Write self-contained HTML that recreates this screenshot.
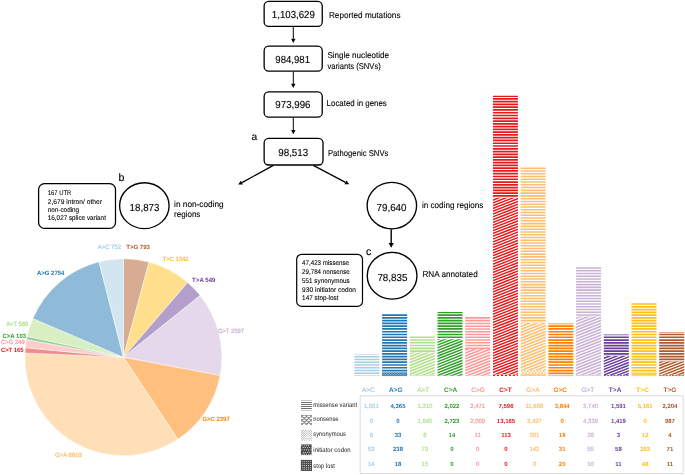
<!DOCTYPE html>
<html lang="en"><head><meta charset="utf-8"><title>Figure</title>
<style>html,body{margin:0;padding:0;background:#fff}svg{display:block}text{font-family:"Liberation Sans",sans-serif}text.g{text-rendering:geometricPrecision}</style></head><body>
<svg width="685" height="475" viewBox="0 0 685 475">
<rect width="685" height="475" fill="#fff"/>
<defs>
</defs>
<rect x="264.15" y="1.45" width="58.10" height="25.00" rx="4.5" ry="4.5" fill="#fff" stroke="#000" stroke-width="1.3"/>
<text x="271.8" y="17.7" class="g" font-size="10.2" text-anchor="start" fill="#000" textLength="43.1" lengthAdjust="spacingAndGlyphs" stroke="#000" stroke-width="0.12">1,103,629</text>
<rect x="264.15" y="46.15" width="58.10" height="25.00" rx="4.5" ry="4.5" fill="#fff" stroke="#000" stroke-width="1.3"/>
<text x="275.3" y="62.7" class="g" font-size="10.2" text-anchor="start" fill="#000" textLength="34.7" lengthAdjust="spacingAndGlyphs" stroke="#000" stroke-width="0.12">984,981</text>
<rect x="264.15" y="91.85" width="58.10" height="25.35" rx="4.5" ry="4.5" fill="#fff" stroke="#000" stroke-width="1.3"/>
<text x="275.3" y="107.6" class="g" font-size="10.2" text-anchor="start" fill="#000" textLength="35.2" lengthAdjust="spacingAndGlyphs" stroke="#000" stroke-width="0.12">973,996</text>
<rect x="264.15" y="138.4" width="58.85" height="26.60" rx="4.5" ry="4.5" fill="#fff" stroke="#000" stroke-width="1.3"/>
<text x="278.2" y="156.1" class="g" font-size="10.2" text-anchor="start" fill="#000" textLength="30.1" lengthAdjust="spacingAndGlyphs" stroke="#000" stroke-width="0.12">98,513</text>
<line x1="293.3" y1="27" x2="293.30" y2="38.80" stroke="#000" stroke-width="1.0"/>
<path d="M293.30,43.00L291.10,38.80L295.50,38.80z" fill="#000"/>
<line x1="293.3" y1="71.8" x2="293.30" y2="83.80" stroke="#000" stroke-width="1.0"/>
<path d="M293.30,88.00L291.10,83.80L295.50,83.80z" fill="#000"/>
<line x1="293.3" y1="117.8" x2="293.30" y2="130.00" stroke="#000" stroke-width="1.0"/>
<path d="M293.30,134.20L291.10,130.00L295.50,130.00z" fill="#000"/>
<line x1="273.4" y1="165.4" x2="241.89" y2="182.59" stroke="#000" stroke-width="1.25"/>
<path d="M238.20,184.60L240.83,180.66L242.94,184.52z" fill="#000"/>
<line x1="313.3" y1="165.4" x2="345.48" y2="182.34" stroke="#000" stroke-width="1.25"/>
<path d="M349.20,184.30L344.46,184.29L346.51,180.40z" fill="#000"/>
<text x="328.9" y="17.7" class="g" font-size="8.5" text-anchor="start" fill="#000" textLength="71.6" lengthAdjust="spacingAndGlyphs" stroke="#000" stroke-width="0.1">Reported mutations</text>
<text x="327.4" y="57.9" class="g" font-size="8.5" text-anchor="start" fill="#000" textLength="61.6" lengthAdjust="spacingAndGlyphs" stroke="#000" stroke-width="0.1">Single nucleotide</text>
<text x="327.4" y="68.5" class="g" font-size="8.5" text-anchor="start" fill="#000" textLength="53.4" lengthAdjust="spacingAndGlyphs" stroke="#000" stroke-width="0.1">variants (SNVs)</text>
<text x="326.6" y="106.4" class="g" font-size="8.5" text-anchor="start" fill="#000" textLength="60.2" lengthAdjust="spacingAndGlyphs" stroke="#000" stroke-width="0.1">Located in genes</text>
<text x="327.9" y="156.1" class="g" font-size="8.5" text-anchor="start" fill="#000" textLength="60.5" lengthAdjust="spacingAndGlyphs" stroke="#000" stroke-width="0.1">Pathogenic SNVs</text>
<text x="251.6" y="139.9" class="g" font-size="10.2" text-anchor="start" fill="#000" stroke="#000" stroke-width="0.15">a</text>
<text x="118.6" y="181.3" class="g" font-size="10.6" text-anchor="start" fill="#000" stroke="#000" stroke-width="0.15">b</text>
<text x="366.0" y="254.9" class="g" font-size="10.6" text-anchor="start" fill="#000" stroke="#000" stroke-width="0.15">c</text>
<ellipse cx="144.35" cy="205.65" rx="24.75" ry="22.95" fill="#fff" stroke="#000" stroke-width="1.35"/>
<text x="129.6" y="210.8" class="g" font-size="10.2" text-anchor="start" fill="#000" textLength="29.8" lengthAdjust="spacingAndGlyphs" stroke="#000" stroke-width="0.12">18,873</text>
<ellipse cx="391.85" cy="205.6" rx="24.75" ry="23.25" fill="#fff" stroke="#000" stroke-width="1.35"/>
<text x="376.5" y="211.1" class="g" font-size="10.2" text-anchor="start" fill="#000" textLength="30" lengthAdjust="spacingAndGlyphs" stroke="#000" stroke-width="0.12">79,640</text>
<ellipse cx="392.1" cy="275.8" rx="24.85" ry="23.35" fill="#fff" stroke="#000" stroke-width="1.35"/>
<text x="377.4" y="281.3" class="g" font-size="10.2" text-anchor="start" fill="#000" textLength="30" lengthAdjust="spacingAndGlyphs" stroke="#000" stroke-width="0.12">78,835</text>
<line x1="391.2" y1="229.3" x2="391.20" y2="242.90" stroke="#000" stroke-width="1.4"/>
<path d="M391.20,247.70L388.60,242.90L393.80,242.90z" fill="#000"/>
<text x="174.1" y="206.7" class="g" font-size="8.5" text-anchor="start" fill="#000" textLength="49.6" lengthAdjust="spacingAndGlyphs" stroke="#000" stroke-width="0.1">in non-coding</text>
<text x="174.1" y="217.4" class="g" font-size="8.5" text-anchor="start" fill="#000" textLength="26.3" lengthAdjust="spacingAndGlyphs" stroke="#000" stroke-width="0.1">regions</text>
<text x="421.9" y="207.5" class="g" font-size="8.5" text-anchor="start" fill="#000" textLength="61.5" lengthAdjust="spacingAndGlyphs" stroke="#000" stroke-width="0.1">in coding regions</text>
<text x="422.4" y="277.4" class="g" font-size="8.5" text-anchor="start" fill="#000" textLength="55.3" lengthAdjust="spacingAndGlyphs" stroke="#000" stroke-width="0.1">RNA annotated</text>
<rect x="38.6" y="183.65" width="76.90" height="44.65" rx="5.8" ry="5.8" fill="#fff" stroke="#000" stroke-width="1.25"/>
<text x="47.8" y="195.1" class="g" font-size="6.8" text-anchor="start" fill="#000" textLength="23.4" lengthAdjust="spacingAndGlyphs" stroke="#000" stroke-width="0.08">167 UTR</text>
<text x="47.8" y="203.6" class="g" font-size="6.8" text-anchor="start" fill="#000" textLength="54.1" lengthAdjust="spacingAndGlyphs" stroke="#000" stroke-width="0.08">2,679 intron/ other</text>
<text x="47.8" y="211.9" class="g" font-size="6.8" text-anchor="start" fill="#000" textLength="31.3" lengthAdjust="spacingAndGlyphs" stroke="#000" stroke-width="0.08">non-coding</text>
<text x="47.8" y="220.3" class="g" font-size="6.8" text-anchor="start" fill="#000" textLength="58.1" lengthAdjust="spacingAndGlyphs" stroke="#000" stroke-width="0.08">16,027 splice variant</text>
<rect x="296.7" y="254.3" width="65.80" height="52.10" rx="5.0" ry="5.0" fill="#fff" stroke="#000" stroke-width="1.2"/>
<text x="302.1" y="265.2" class="g" font-size="6.8" text-anchor="start" fill="#000" textLength="46.9" lengthAdjust="spacingAndGlyphs" stroke="#000" stroke-width="0.08">47,423 missense</text>
<text x="302.1" y="274.0" class="g" font-size="6.8" text-anchor="start" fill="#000" textLength="47.6" lengthAdjust="spacingAndGlyphs" stroke="#000" stroke-width="0.08">29,784 nonsense</text>
<text x="302.1" y="282.75" class="g" font-size="6.8" text-anchor="start" fill="#000" textLength="47.6" lengthAdjust="spacingAndGlyphs" stroke="#000" stroke-width="0.08">551 synonymous</text>
<text x="302.1" y="291.5" class="g" font-size="6.8" text-anchor="start" fill="#000" textLength="53.9" lengthAdjust="spacingAndGlyphs" stroke="#000" stroke-width="0.08">930 initiator codon</text>
<text x="302.1" y="299.85" class="g" font-size="6.8" text-anchor="start" fill="#000" textLength="36.4" lengthAdjust="spacingAndGlyphs" stroke="#000" stroke-width="0.08">147 stop-lost</text>
<path d="M123.4,357.2 L123.40,258.70 A98.5,98.5 0 0 1 149.10,262.11 Z" fill="#b15928" fill-opacity="0.5" stroke="#fff" stroke-width="0.5"/>
<path d="M123.4,357.2 L149.10,262.11 A98.5,98.5 0 0 1 187.66,282.55 Z" fill="#ffc01a" fill-opacity="0.5" stroke="#fff" stroke-width="0.5"/>
<path d="M123.4,357.2 L187.66,282.55 A98.5,98.5 0 0 1 200.16,295.48 Z" fill="#6a3d9a" fill-opacity="0.5" stroke="#fff" stroke-width="0.5"/>
<path d="M123.4,357.2 L200.16,295.48 A98.5,98.5 0 0 1 220.18,375.55 Z" fill="#cab2d6" fill-opacity="0.5" stroke="#fff" stroke-width="0.5"/>
<path d="M123.4,357.2 L220.18,375.55 A98.5,98.5 0 0 1 177.83,439.30 Z" fill="#ff7f00" fill-opacity="0.5" stroke="#fff" stroke-width="0.5"/>
<path d="M123.4,357.2 L177.83,439.30 A98.5,98.5 0 0 1 24.99,353.06 Z" fill="#fdbf6f" fill-opacity="0.5" stroke="#fff" stroke-width="0.5"/>
<path d="M123.4,357.2 L24.99,353.06 A98.5,98.5 0 0 1 25.36,347.66 Z" fill="#e31a1c" fill-opacity="0.5" stroke="#fff" stroke-width="0.5"/>
<path d="M123.4,357.2 L25.36,347.66 A98.5,98.5 0 0 1 26.49,339.58 Z" fill="#fb9a99" fill-opacity="0.5" stroke="#fff" stroke-width="0.5"/>
<path d="M123.4,357.2 L26.49,339.58 A98.5,98.5 0 0 1 27.15,336.27 Z" fill="#33a02c" fill-opacity="0.5" stroke="#fff" stroke-width="0.5"/>
<path d="M123.4,357.2 L27.15,336.27 A98.5,98.5 0 0 1 32.81,318.52 Z" fill="#b2df8a" fill-opacity="0.5" stroke="#fff" stroke-width="0.5"/>
<path d="M123.4,357.2 L32.81,318.52 A98.5,98.5 0 0 1 99.00,261.77 Z" fill="#1f78b4" fill-opacity="0.5" stroke="#fff" stroke-width="0.5"/>
<path d="M123.4,357.2 L99.00,261.77 A98.5,98.5 0 0 1 123.40,258.70 Z" fill="#a6cee3" fill-opacity="0.5" stroke="#fff" stroke-width="0.5"/>
<text x="97.7" y="249.2" class="g" font-size="6.15" text-anchor="start" fill="#a6cee3" textLength="23.4" lengthAdjust="spacingAndGlyphs" stroke="#a6cee3" stroke-width="0.22">A&gt;C 752</text>
<text x="126.2" y="249.2" class="g" font-size="6.15" text-anchor="start" fill="#b15928" font-weight="bold" textLength="23.8" lengthAdjust="spacingAndGlyphs">T&gt;G 793</text>
<text x="162.4" y="261.4" class="g" font-size="6.15" text-anchor="start" fill="#ffc01a" font-weight="bold" textLength="26.2" lengthAdjust="spacingAndGlyphs">T&gt;C 1342</text>
<text x="192.1" y="282.4" class="g" font-size="6.15" text-anchor="start" fill="#6a3d9a" font-weight="bold" textLength="23.4" lengthAdjust="spacingAndGlyphs">T&gt;A 549</text>
<text x="217.9" y="332.5" class="g" font-size="6.15" text-anchor="start" fill="#cab2d6" textLength="26.1" lengthAdjust="spacingAndGlyphs" stroke="#cab2d6" stroke-width="0.22">G&gt;T 2597</text>
<text x="37.1" y="275.1" class="g" font-size="6.15" text-anchor="start" fill="#1f78b4" font-weight="bold" textLength="27.2" lengthAdjust="spacingAndGlyphs">A&gt;G 2754</text>
<text x="6.2" y="325.6" class="g" font-size="6.15" text-anchor="start" fill="#b2df8a" textLength="22.2" lengthAdjust="spacingAndGlyphs" stroke="#b2df8a" stroke-width="0.22">A&gt;T 569</text>
<text x="2.4" y="337.75" class="g" font-size="6.15" text-anchor="start" fill="#33a02c" font-weight="bold" textLength="23.7" lengthAdjust="spacingAndGlyphs">C&gt;A 103</text>
<text x="1.1" y="343.9" class="g" font-size="6.15" text-anchor="start" fill="#fb9a99" textLength="23.7" lengthAdjust="spacingAndGlyphs" stroke="#fb9a99" stroke-width="0.22">C&gt;G 249</text>
<text x="0.95" y="351.8" class="g" font-size="6.15" text-anchor="start" fill="#e31a1c" font-weight="bold" textLength="22.6" lengthAdjust="spacingAndGlyphs">C&gt;T 165</text>
<text x="202.5" y="421.2" class="g" font-size="6.15" text-anchor="start" fill="#ff7f00" font-weight="bold" textLength="27.2" lengthAdjust="spacingAndGlyphs">G&gt;C 2397</text>
<text x="54.9" y="456.5" class="g" font-size="6.15" text-anchor="start" fill="#fdbf6f" textLength="27.3" lengthAdjust="spacingAndGlyphs" stroke="#fdbf6f" stroke-width="0.22">G&gt;A 6603</text>
<path d="M354.40,375.91h25" stroke="#a6cee3" stroke-width="0.19" stroke-dasharray="1.6 0.7" fill="none"/>
<path d="M354.40,375.46h25" stroke="#a6cee3" stroke-width="0.71" stroke-dasharray="2.3 0.9" fill="none"/>
<rect x="354.40" y="375.02" width="25" height="0.08" fill="#a6cee3" fill-opacity="0.45"/>
<path d="M354.40,354.19h25v0.49h-25zM354.40,355.90h25v1.55h-25zM354.40,358.67h25v1.55h-25zM354.40,361.44h25v1.55h-25zM354.40,364.22h25v1.55h-25zM354.40,366.99h25v1.55h-25zM354.40,369.76h25v1.55h-25zM354.40,372.53h25v1.55h-25z" fill="#a6cee3"/>
<path d="M382.11,375.88h25" stroke="#1f78b4" stroke-width="0.24" stroke-dasharray="1.6 0.7" fill="none"/>
<rect x="382.11" y="372.56" width="25" height="3.20" fill="#1f78b4"/>
<path d="M382.71,374.91L384.01,373.41L385.31,374.91L386.61,373.41L387.91,374.91L389.21,373.41L390.51,374.91L391.81,373.41L393.11,374.91L394.41,373.41L395.71,374.91L397.01,373.41L398.31,374.91L399.61,373.41L400.91,374.91L402.21,373.41L403.51,374.91L404.81,373.41L406.11,374.91" stroke="#fff" stroke-width="0.55" fill="none" stroke-opacity="0.85"/>
<rect x="382.11" y="372.12" width="25" height="0.44" fill="#1f78b4" fill-opacity="0.45"/>
<path d="M382.11,314.25h25v1.70h-25zM382.11,317.02h25v1.70h-25zM382.11,319.79h25v1.70h-25zM382.11,322.56h25v1.70h-25zM382.11,325.33h25v1.70h-25zM382.11,328.11h25v1.70h-25zM382.11,330.88h25v1.70h-25zM382.11,333.65h25v1.70h-25zM382.11,336.42h25v1.70h-25zM382.11,339.19h25v1.70h-25zM382.11,341.97h25v1.70h-25zM382.11,344.74h25v1.70h-25zM382.11,347.51h25v1.70h-25zM382.11,350.28h25v1.70h-25zM382.11,353.05h25v1.70h-25zM382.11,355.83h25v1.70h-25zM382.11,358.60h25v1.70h-25zM382.11,361.37h25v1.70h-25zM382.11,364.14h25v1.70h-25zM382.11,366.91h25v1.70h-25zM382.11,369.69h25v1.70h-25z" fill="#1f78b4"/>
<path d="M409.82,375.90h25" stroke="#b2df8a" stroke-width="0.20" stroke-dasharray="1.6 0.7" fill="none"/>
<path d="M409.82,375.27h25" stroke="#b2df8a" stroke-width="1.06" stroke-dasharray="2.3 0.9" fill="none"/>
<rect x="409.82" y="374.63" width="25" height="0.11" fill="#b2df8a" fill-opacity="0.45"/>
<clipPath id="cp2"><rect x="409.82" y="352.54" width="25" height="22.09"/></clipPath>
<path d="M408.82,348.33L435.82,337.75M408.82,351.26L435.82,340.68M408.82,354.19L435.82,343.61M408.82,357.12L435.82,346.54M408.82,360.05L435.82,349.47M408.82,362.98L435.82,352.40M408.82,365.91L435.82,355.33M408.82,368.84L435.82,358.26M408.82,371.77L435.82,361.19M408.82,374.70L435.82,364.12M408.82,377.63L435.82,367.05M408.82,380.56L435.82,369.98M408.82,383.49L435.82,372.91M408.82,386.42L435.82,375.84M408.82,389.35L435.82,378.77" stroke="#b2df8a" stroke-width="1.60" fill="none" clip-path="url(#cp2)"/>
<path d="M409.82,336.50h25v1.55h-25zM409.82,339.27h25v1.55h-25zM409.82,342.04h25v1.55h-25zM409.82,344.81h25v1.55h-25zM409.82,347.59h25v1.55h-25zM409.82,350.36h25v1.55h-25z" fill="#b2df8a"/>
<rect x="437.53" y="375.81" width="25" height="0.19" fill="#33a02c" fill-opacity="0.45"/>
<clipPath id="cp3"><rect x="437.53" y="339.25" width="25" height="36.56"/></clipPath>
<path d="M436.53,334.31L463.53,323.74M436.53,337.09L463.53,326.52M436.53,339.87L463.53,329.30M436.53,342.65L463.53,332.08M436.53,345.43L463.53,334.86M436.53,348.21L463.53,337.64M436.53,350.99L463.53,340.42M436.53,353.77L463.53,343.20M436.53,356.56L463.53,345.99M436.53,359.34L463.53,348.77M436.53,362.12L463.53,351.55M436.53,364.90L463.53,354.33M436.53,367.68L463.53,357.11M436.53,370.46L463.53,359.89M436.53,373.24L463.53,362.67M436.53,376.02L463.53,365.45M436.53,378.80L463.53,368.23M436.53,381.58L463.53,371.01M436.53,384.37L463.53,373.80M436.53,387.15L463.53,376.58M436.53,389.93L463.53,379.36" stroke="#33a02c" stroke-width="1.47" fill="none" clip-path="url(#cp3)"/>
<path d="M437.53,312.10h25v1.08h-25zM437.53,314.25h25v1.70h-25zM437.53,317.02h25v1.70h-25zM437.53,319.79h25v1.70h-25zM437.53,322.56h25v1.70h-25zM437.53,325.33h25v1.70h-25zM437.53,328.11h25v1.70h-25zM437.53,330.88h25v1.70h-25zM437.53,333.65h25v1.70h-25zM437.53,336.42h25v1.70h-25zM437.53,339.19h25v0.05h-25z" fill="#33a02c"/>
<rect x="465.24" y="375.85" width="25" height="0.15" fill="#fb9a99" fill-opacity="0.45"/>
<clipPath id="cp4"><rect x="465.24" y="348.88" width="25" height="26.98"/></clipPath>
<path d="M464.24,344.63L491.24,334.06M464.24,347.56L491.24,336.99M464.24,350.49L491.24,339.92M464.24,353.42L491.24,342.85M464.24,356.35L491.24,345.78M464.24,359.28L491.24,348.71M464.24,362.21L491.24,351.64M464.24,365.14L491.24,354.57M464.24,368.07L491.24,357.50M464.24,371.00L491.24,360.43M464.24,373.93L491.24,363.36M464.24,376.86L491.24,366.29M464.24,379.79L491.24,369.22M464.24,382.72L491.24,372.15M464.24,385.65L491.24,375.08M464.24,388.58L491.24,378.01M464.24,391.51L491.24,380.94" stroke="#fb9a99" stroke-width="1.60" fill="none" clip-path="url(#cp4)"/>
<path d="M465.24,315.69h25v0.18h-25zM465.24,317.09h25v1.55h-25zM465.24,319.87h25v1.55h-25zM465.24,322.64h25v1.55h-25zM465.24,325.41h25v1.55h-25zM465.24,328.18h25v1.55h-25zM465.24,330.95h25v1.55h-25zM465.24,333.73h25v1.55h-25zM465.24,336.50h25v1.55h-25zM465.24,339.27h25v1.55h-25zM465.24,342.04h25v1.55h-25zM465.24,344.81h25v1.55h-25zM465.24,347.59h25v1.29h-25z" fill="#fb9a99"/>
<clipPath id="cs5"><rect x="492.95" y="374.48" width="25" height="1.52"/></clipPath>
<g fill="#e31a1c" clip-path="url(#cs5)"><circle cx="489.95" cy="375.43" r="1.15"/><circle cx="493.95" cy="375.43" r="1.15"/><circle cx="497.95" cy="375.43" r="1.15"/><circle cx="501.95" cy="375.43" r="1.15"/><circle cx="505.95" cy="375.43" r="1.15"/><circle cx="509.95" cy="375.43" r="1.15"/><circle cx="513.95" cy="375.43" r="1.15"/><circle cx="517.95" cy="375.43" r="1.15"/><circle cx="491.95" cy="377.38" r="1.15"/><circle cx="495.95" cy="377.38" r="1.15"/><circle cx="499.95" cy="377.38" r="1.15"/><circle cx="503.95" cy="377.38" r="1.15"/><circle cx="507.95" cy="377.38" r="1.15"/><circle cx="511.95" cy="377.38" r="1.15"/><circle cx="515.95" cy="377.38" r="1.15"/></g>
<clipPath id="cp5"><rect x="492.95" y="197.70" width="25" height="176.78"/></clipPath>
<path d="M491.95,192.16L518.95,181.59M491.95,194.94L518.95,184.37M491.95,197.72L518.95,187.15M491.95,200.50L518.95,189.93M491.95,203.29L518.95,192.71M491.95,206.07L518.95,195.50M491.95,208.85L518.95,198.28M491.95,211.63L518.95,201.06M491.95,214.41L518.95,203.84M491.95,217.19L518.95,206.62M491.95,219.97L518.95,209.40M491.95,222.75L518.95,212.18M491.95,225.53L518.95,214.96M491.95,228.31L518.95,217.74M491.95,231.10L518.95,220.52M491.95,233.88L518.95,223.31M491.95,236.66L518.95,226.09M491.95,239.44L518.95,228.87M491.95,242.22L518.95,231.65M491.95,245.00L518.95,234.43M491.95,247.78L518.95,237.21M491.95,250.56L518.95,239.99M491.95,253.34L518.95,242.77M491.95,256.12L518.95,245.55M491.95,258.91L518.95,248.33M491.95,261.69L518.95,251.12M491.95,264.47L518.95,253.90M491.95,267.25L518.95,256.68M491.95,270.03L518.95,259.46M491.95,272.81L518.95,262.24M491.95,275.59L518.95,265.02M491.95,278.37L518.95,267.80M491.95,281.15L518.95,270.58M491.95,283.93L518.95,273.36M491.95,286.72L518.95,276.14M491.95,289.50L518.95,278.93M491.95,292.28L518.95,281.71M491.95,295.06L518.95,284.49M491.95,297.84L518.95,287.27M491.95,300.62L518.95,290.05M491.95,303.40L518.95,292.83M491.95,306.18L518.95,295.61M491.95,308.96L518.95,298.39M491.95,311.74L518.95,301.17M491.95,314.53L518.95,303.95M491.95,317.31L518.95,306.74M491.95,320.09L518.95,309.52M491.95,322.87L518.95,312.30M491.95,325.65L518.95,315.08M491.95,328.43L518.95,317.86M491.95,331.21L518.95,320.64M491.95,333.99L518.95,323.42M491.95,336.77L518.95,326.20M491.95,339.55L518.95,328.98M491.95,342.34L518.95,331.76M491.95,345.12L518.95,334.55M491.95,347.90L518.95,337.33M491.95,350.68L518.95,340.11M491.95,353.46L518.95,342.89M491.95,356.24L518.95,345.67M491.95,359.02L518.95,348.45M491.95,361.80L518.95,351.23M491.95,364.58L518.95,354.01M491.95,367.36L518.95,356.79M491.95,370.15L518.95,359.57M491.95,372.93L518.95,362.36M491.95,375.71L518.95,365.14M491.95,378.49L518.95,367.92M491.95,381.27L518.95,370.70M491.95,384.05L518.95,373.48M491.95,386.83L518.95,376.26M491.95,389.61L518.95,379.04" stroke="#e31a1c" stroke-width="1.47" fill="none" clip-path="url(#cp5)"/>
<path d="M492.95,95.70h25v1.26h-25zM492.95,98.03h25v1.70h-25zM492.95,100.80h25v1.70h-25zM492.95,103.57h25v1.70h-25zM492.95,106.35h25v1.70h-25zM492.95,109.12h25v1.70h-25zM492.95,111.89h25v1.70h-25zM492.95,114.66h25v1.70h-25zM492.95,117.43h25v1.70h-25zM492.95,120.21h25v1.70h-25zM492.95,122.98h25v1.70h-25zM492.95,125.75h25v1.70h-25zM492.95,128.52h25v1.70h-25zM492.95,131.29h25v1.70h-25zM492.95,134.07h25v1.70h-25zM492.95,136.84h25v1.70h-25zM492.95,139.61h25v1.70h-25zM492.95,142.38h25v1.70h-25zM492.95,145.15h25v1.70h-25zM492.95,147.93h25v1.70h-25zM492.95,150.70h25v1.70h-25zM492.95,153.47h25v1.70h-25zM492.95,156.24h25v1.70h-25zM492.95,159.01h25v1.70h-25zM492.95,161.79h25v1.70h-25zM492.95,164.56h25v1.70h-25zM492.95,167.33h25v1.70h-25zM492.95,170.10h25v1.70h-25zM492.95,172.87h25v1.70h-25zM492.95,175.65h25v1.70h-25zM492.95,178.42h25v1.70h-25zM492.95,181.19h25v1.70h-25zM492.95,183.96h25v1.70h-25zM492.95,186.73h25v1.70h-25zM492.95,189.51h25v1.70h-25zM492.95,192.28h25v1.70h-25zM492.95,195.05h25v1.70h-25z" fill="#e31a1c"/>
<rect x="520.66" y="374.09" width="25" height="1.91" fill="#fdbf6f"/>
<path d="M521.26,375.45L522.56,374.64L523.86,375.45L525.16,374.64L526.46,375.45L527.76,374.64L529.06,375.45L530.36,374.64L531.66,375.45L532.96,374.64L534.26,375.45L535.56,374.64L536.86,375.45L538.16,374.64L539.46,375.45L540.76,374.64L542.06,375.45L543.36,374.64L544.66,375.45" stroke="#fff" stroke-width="0.55" fill="none" stroke-opacity="0.85"/>
<clipPath id="cs6"><rect x="520.66" y="370.05" width="25" height="4.04"/></clipPath>
<g fill="#fdbf6f" clip-path="url(#cs6)"><circle cx="518.26" cy="371.00" r="0.95"/><circle cx="521.46" cy="371.00" r="0.95"/><circle cx="524.66" cy="371.00" r="0.95"/><circle cx="527.86" cy="371.00" r="0.95"/><circle cx="531.06" cy="371.00" r="0.95"/><circle cx="534.26" cy="371.00" r="0.95"/><circle cx="537.46" cy="371.00" r="0.95"/><circle cx="540.66" cy="371.00" r="0.95"/><circle cx="543.86" cy="371.00" r="0.95"/><circle cx="547.06" cy="371.00" r="0.95"/><circle cx="519.86" cy="372.95" r="0.95"/><circle cx="523.06" cy="372.95" r="0.95"/><circle cx="526.26" cy="372.95" r="0.95"/><circle cx="529.46" cy="372.95" r="0.95"/><circle cx="532.66" cy="372.95" r="0.95"/><circle cx="535.86" cy="372.95" r="0.95"/><circle cx="539.06" cy="372.95" r="0.95"/><circle cx="542.26" cy="372.95" r="0.95"/><circle cx="545.46" cy="372.95" r="0.95"/><circle cx="518.26" cy="374.90" r="0.95"/><circle cx="521.46" cy="374.90" r="0.95"/><circle cx="524.66" cy="374.90" r="0.95"/><circle cx="527.86" cy="374.90" r="0.95"/><circle cx="531.06" cy="374.90" r="0.95"/><circle cx="534.26" cy="374.90" r="0.95"/><circle cx="537.46" cy="374.90" r="0.95"/><circle cx="540.66" cy="374.90" r="0.95"/><circle cx="543.86" cy="374.90" r="0.95"/><circle cx="547.06" cy="374.90" r="0.95"/><circle cx="519.86" cy="376.85" r="0.95"/><circle cx="523.06" cy="376.85" r="0.95"/><circle cx="526.26" cy="376.85" r="0.95"/><circle cx="529.46" cy="376.85" r="0.95"/><circle cx="532.66" cy="376.85" r="0.95"/><circle cx="535.86" cy="376.85" r="0.95"/><circle cx="539.06" cy="376.85" r="0.95"/><circle cx="542.26" cy="376.85" r="0.95"/><circle cx="545.46" cy="376.85" r="0.95"/></g>
<clipPath id="cp6"><rect x="520.66" y="323.09" width="25" height="46.96"/></clipPath>
<path d="M519.66,318.15L546.66,307.58M519.66,321.08L546.66,310.51M519.66,324.01L546.66,313.44M519.66,326.94L546.66,316.37M519.66,329.87L546.66,319.30M519.66,332.80L546.66,322.23M519.66,335.73L546.66,325.16M519.66,338.66L546.66,328.09M519.66,341.59L546.66,331.02M519.66,344.52L546.66,333.95M519.66,347.45L546.66,336.88M519.66,350.38L546.66,339.81M519.66,353.31L546.66,342.74M519.66,356.24L546.66,345.67M519.66,359.17L546.66,348.60M519.66,362.10L546.66,351.53M519.66,365.03L546.66,354.46M519.66,367.96L546.66,357.39M519.66,370.89L546.66,360.32M519.66,373.82L546.66,363.25M519.66,376.75L546.66,366.18M519.66,379.68L546.66,369.11M519.66,382.61L546.66,372.04M519.66,385.54L546.66,374.97" stroke="#fdbf6f" stroke-width="1.60" fill="none" clip-path="url(#cp6)"/>
<path d="M520.66,167.41h25v1.55h-25zM520.66,170.18h25v1.55h-25zM520.66,172.95h25v1.55h-25zM520.66,175.72h25v1.55h-25zM520.66,178.49h25v1.55h-25zM520.66,181.26h25v1.55h-25zM520.66,184.04h25v1.55h-25zM520.66,186.81h25v1.55h-25zM520.66,189.58h25v1.55h-25zM520.66,192.35h25v1.55h-25zM520.66,195.12h25v1.55h-25zM520.66,197.90h25v1.55h-25zM520.66,200.67h25v1.55h-25zM520.66,203.44h25v1.55h-25zM520.66,206.21h25v1.55h-25zM520.66,208.98h25v1.55h-25zM520.66,211.76h25v1.55h-25zM520.66,214.53h25v1.55h-25zM520.66,217.30h25v1.55h-25zM520.66,220.07h25v1.55h-25zM520.66,222.84h25v1.55h-25zM520.66,225.62h25v1.55h-25zM520.66,228.39h25v1.55h-25zM520.66,231.16h25v1.55h-25zM520.66,233.93h25v1.55h-25zM520.66,236.70h25v1.55h-25zM520.66,239.48h25v1.55h-25zM520.66,242.25h25v1.55h-25zM520.66,245.02h25v1.55h-25zM520.66,247.79h25v1.55h-25zM520.66,250.56h25v1.55h-25zM520.66,253.34h25v1.55h-25zM520.66,256.11h25v1.55h-25zM520.66,258.88h25v1.55h-25zM520.66,261.65h25v1.55h-25zM520.66,264.43h25v1.55h-25zM520.66,267.20h25v1.55h-25zM520.66,269.97h25v1.55h-25zM520.66,272.74h25v1.55h-25zM520.66,275.51h25v1.55h-25zM520.66,278.29h25v1.55h-25zM520.66,281.06h25v1.55h-25zM520.66,283.83h25v1.55h-25zM520.66,286.60h25v1.55h-25zM520.66,289.37h25v1.55h-25zM520.66,292.14h25v1.55h-25zM520.66,294.92h25v1.55h-25zM520.66,297.69h25v1.55h-25zM520.66,300.46h25v1.55h-25zM520.66,303.23h25v1.55h-25zM520.66,306.00h25v1.55h-25zM520.66,308.78h25v1.55h-25zM520.66,311.55h25v1.55h-25zM520.66,314.32h25v1.55h-25zM520.66,317.09h25v1.55h-25zM520.66,319.87h25v1.55h-25zM520.66,322.64h25v0.46h-25z" fill="#fdbf6f"/>
<path d="M548.37,375.87h25" stroke="#ff7f00" stroke-width="0.27" stroke-dasharray="1.6 0.7" fill="none"/>
<path d="M548.37,375.52h25" stroke="#ff7f00" stroke-width="0.42" stroke-dasharray="2.3 0.9" fill="none"/>
<rect x="548.37" y="375.07" width="25" height="0.24" fill="#ff7f00" fill-opacity="0.45"/>
<path d="M548.37,323.46h25v0.81h-25zM548.37,325.33h25v1.70h-25zM548.37,328.11h25v1.70h-25zM548.37,330.88h25v1.70h-25zM548.37,333.65h25v1.70h-25zM548.37,336.42h25v1.70h-25zM548.37,339.19h25v1.70h-25zM548.37,341.97h25v1.70h-25zM548.37,344.74h25v1.70h-25zM548.37,347.51h25v1.70h-25zM548.37,350.28h25v1.70h-25zM548.37,353.05h25v1.70h-25zM548.37,355.83h25v1.70h-25zM548.37,358.60h25v1.70h-25zM548.37,361.37h25v1.70h-25zM548.37,364.14h25v1.70h-25zM548.37,366.91h25v1.70h-25zM548.37,369.69h25v1.70h-25zM548.37,372.46h25v1.70h-25z" fill="#ff7f00"/>
<path d="M576.08,375.93h25" stroke="#cab2d6" stroke-width="0.13" stroke-dasharray="1.6 0.7" fill="none"/>
<path d="M576.08,375.50h25" stroke="#cab2d6" stroke-width="0.74" stroke-dasharray="2.3 0.9" fill="none"/>
<rect x="576.08" y="374.75" width="25" height="0.38" fill="#cab2d6" fill-opacity="0.45"/>
<clipPath id="cp8"><rect x="576.08" y="316.49" width="25" height="58.26"/></clipPath>
<path d="M575.08,312.99L602.08,302.42M575.08,315.92L602.08,305.35M575.08,318.85L602.08,308.28M575.08,321.78L602.08,311.21M575.08,324.71L602.08,314.14M575.08,327.64L602.08,317.07M575.08,330.57L602.08,320.00M575.08,333.50L602.08,322.93M575.08,336.43L602.08,325.86M575.08,339.36L602.08,328.79M575.08,342.29L602.08,331.72M575.08,345.22L602.08,334.65M575.08,348.15L602.08,337.58M575.08,351.08L602.08,340.51M575.08,354.01L602.08,343.44M575.08,356.94L602.08,346.37M575.08,359.87L602.08,349.30M575.08,362.80L602.08,352.23M575.08,365.73L602.08,355.16M575.08,368.66L602.08,358.09M575.08,371.59L602.08,361.02M575.08,374.52L602.08,363.95M575.08,377.45L602.08,366.88M575.08,380.38L602.08,369.81M575.08,383.31L602.08,372.74M575.08,386.24L602.08,375.67M575.08,389.17L602.08,378.60" stroke="#cab2d6" stroke-width="1.60" fill="none" clip-path="url(#cp8)"/>
<path d="M576.08,267.20h25v1.55h-25zM576.08,269.97h25v1.55h-25zM576.08,272.74h25v1.55h-25zM576.08,275.51h25v1.55h-25zM576.08,278.29h25v1.55h-25zM576.08,281.06h25v1.55h-25zM576.08,283.83h25v1.55h-25zM576.08,286.60h25v1.55h-25zM576.08,289.37h25v1.55h-25zM576.08,292.14h25v1.55h-25zM576.08,294.92h25v1.55h-25zM576.08,297.69h25v1.55h-25zM576.08,300.46h25v1.55h-25zM576.08,303.23h25v1.55h-25zM576.08,306.00h25v1.55h-25zM576.08,308.78h25v1.55h-25zM576.08,311.55h25v1.55h-25zM576.08,314.32h25v1.55h-25z" fill="#cab2d6"/>
<path d="M603.79,375.93h25" stroke="#6a3d9a" stroke-width="0.15" stroke-dasharray="1.6 0.7" fill="none"/>
<path d="M603.79,375.46h25" stroke="#6a3d9a" stroke-width="0.78" stroke-dasharray="2.3 0.9" fill="none"/>
<rect x="603.79" y="375.03" width="25" height="0.04" fill="#6a3d9a" fill-opacity="0.45"/>
<clipPath id="cp9"><rect x="603.79" y="355.98" width="25" height="19.05"/></clipPath>
<path d="M602.79,353.16L629.79,342.59M602.79,355.94L629.79,345.37M602.79,358.72L629.79,348.15M602.79,361.50L629.79,350.93M602.79,364.28L629.79,353.71M602.79,367.06L629.79,356.49M602.79,369.84L629.79,359.27M602.79,372.62L629.79,362.05M602.79,375.41L629.79,364.84M602.79,378.19L629.79,367.62M602.79,380.97L629.79,370.40M602.79,383.75L629.79,373.18M602.79,386.53L629.79,375.96M602.79,389.31L629.79,378.74" stroke="#6a3d9a" stroke-width="1.47" fill="none" clip-path="url(#cp9)"/>
<path d="M603.79,334.61h25v0.74h-25zM603.79,336.42h25v1.70h-25zM603.79,339.19h25v1.70h-25zM603.79,341.97h25v1.70h-25zM603.79,344.74h25v1.70h-25zM603.79,347.51h25v1.70h-25zM603.79,350.28h25v1.70h-25zM603.79,353.05h25v1.70h-25zM603.79,355.83h25v0.15h-25z" fill="#6a3d9a"/>
<path d="M631.50,375.68h25" stroke="#ffc01a" stroke-width="0.64" stroke-dasharray="1.6 0.7" fill="none"/>
<rect x="631.50" y="372.63" width="25" height="2.73" fill="#ffc01a"/>
<path d="M632.10,374.74L633.40,373.24L634.70,374.74L636.00,373.24L637.30,374.74L638.60,373.24L639.90,374.74L641.20,373.24L642.50,374.74L643.80,373.24L645.10,374.74L646.40,373.24L647.70,374.74L649.00,373.24L650.30,374.74L651.60,373.24L652.90,374.74L654.20,373.24L655.50,374.74" stroke="#fff" stroke-width="0.55" fill="none" stroke-opacity="0.85"/>
<rect x="631.50" y="372.47" width="25" height="0.16" fill="#ffc01a" fill-opacity="0.45"/>
<path d="M631.50,303.17h25v1.69h-25zM631.50,305.93h25v1.70h-25zM631.50,308.70h25v1.70h-25zM631.50,311.47h25v1.70h-25zM631.50,314.25h25v1.70h-25zM631.50,317.02h25v1.70h-25zM631.50,319.79h25v1.70h-25zM631.50,322.56h25v1.70h-25zM631.50,325.33h25v1.70h-25zM631.50,328.11h25v1.70h-25zM631.50,330.88h25v1.70h-25zM631.50,333.65h25v1.70h-25zM631.50,336.42h25v1.70h-25zM631.50,339.19h25v1.70h-25zM631.50,341.97h25v1.70h-25zM631.50,344.74h25v1.70h-25zM631.50,347.51h25v1.70h-25zM631.50,350.28h25v1.70h-25zM631.50,353.05h25v1.70h-25zM631.50,355.83h25v1.70h-25zM631.50,358.60h25v1.70h-25zM631.50,361.37h25v1.70h-25zM631.50,364.14h25v1.70h-25zM631.50,366.91h25v1.70h-25zM631.50,369.69h25v1.70h-25z" fill="#ffc01a"/>
<path d="M659.21,375.93h25" stroke="#b15928" stroke-width="0.15" stroke-dasharray="1.6 0.7" fill="none"/>
<path d="M659.21,375.38h25" stroke="#b15928" stroke-width="0.95" stroke-dasharray="2.3 0.9" fill="none"/>
<rect x="659.21" y="374.85" width="25" height="0.05" fill="#b15928" fill-opacity="0.45"/>
<clipPath id="cp11"><rect x="659.21" y="361.59" width="25" height="13.25"/></clipPath>
<path d="M658.21,357.58L685.21,347.01M658.21,360.36L685.21,349.79M658.21,363.15L685.21,352.57M658.21,365.93L685.21,355.36M658.21,368.71L685.21,358.14M658.21,371.49L685.21,360.92M658.21,374.27L685.21,363.70M658.21,377.05L685.21,366.48M658.21,379.83L685.21,369.26M658.21,382.61L685.21,372.04M658.21,385.39L685.21,374.82M658.21,388.17L685.21,377.60M658.21,390.96L685.21,380.38" stroke="#b15928" stroke-width="1.47" fill="none" clip-path="url(#cp11)"/>
<path d="M659.21,332.00h25v0.58h-25zM659.21,333.65h25v1.70h-25zM659.21,336.42h25v1.70h-25zM659.21,339.19h25v1.70h-25zM659.21,341.97h25v1.70h-25zM659.21,344.74h25v1.70h-25zM659.21,347.51h25v1.70h-25zM659.21,350.28h25v1.70h-25zM659.21,353.05h25v1.70h-25zM659.21,355.83h25v1.70h-25zM659.21,358.60h25v1.70h-25zM659.21,361.37h25v0.22h-25z" fill="#b15928"/>
<rect x="360.1" y="395.85" width="323" height="77.55" fill="none" stroke="#c4c4c4" stroke-width="0.6"/>
<text x="368.3" y="392.05" class="g" font-size="6.5" text-anchor="middle" fill="#a6cee3" stroke="#a6cee3" stroke-width="0.2">A&gt;C</text>
<text x="371.3" y="408.0" class="g" font-size="6.0" text-anchor="middle" fill="#a6cee3" stroke="#a6cee3" stroke-width="0.2">1,551</text>
<text x="371.3" y="422.5" class="g" font-size="6.0" text-anchor="middle" fill="#a6cee3" stroke="#a6cee3" stroke-width="0.2">0</text>
<text x="371.3" y="436.8" class="g" font-size="6.0" text-anchor="middle" fill="#a6cee3" stroke="#a6cee3" stroke-width="0.2">6</text>
<text x="371.3" y="451.2" class="g" font-size="6.0" text-anchor="middle" fill="#a6cee3" stroke="#a6cee3" stroke-width="0.2">53</text>
<text x="371.3" y="465.8" class="g" font-size="6.0" text-anchor="middle" fill="#a6cee3" stroke="#a6cee3" stroke-width="0.2">14</text>
<text x="395.7" y="392.05" class="g" font-size="6.5" text-anchor="middle" fill="#1f78b4" font-weight="bold">A&gt;G</text>
<text x="398.0" y="408.0" class="g" font-size="6.0" text-anchor="middle" fill="#1f78b4" font-weight="bold">4,365</text>
<text x="398.0" y="422.5" class="g" font-size="6.0" text-anchor="middle" fill="#1f78b4" font-weight="bold">0</text>
<text x="398.0" y="436.8" class="g" font-size="6.0" text-anchor="middle" fill="#1f78b4" font-weight="bold">33</text>
<text x="398.0" y="451.2" class="g" font-size="6.0" text-anchor="middle" fill="#1f78b4" font-weight="bold">238</text>
<text x="398.0" y="465.8" class="g" font-size="6.0" text-anchor="middle" fill="#1f78b4" font-weight="bold">18</text>
<text x="423.2" y="392.05" class="g" font-size="6.5" text-anchor="middle" fill="#b2df8a" stroke="#b2df8a" stroke-width="0.2">A&gt;T</text>
<text x="424.9" y="408.0" class="g" font-size="6.0" text-anchor="middle" fill="#b2df8a" stroke="#b2df8a" stroke-width="0.2">1,210</text>
<text x="424.9" y="422.5" class="g" font-size="6.0" text-anchor="middle" fill="#b2df8a" stroke="#b2df8a" stroke-width="0.2">1,645</text>
<text x="424.9" y="436.8" class="g" font-size="6.0" text-anchor="middle" fill="#b2df8a" stroke="#b2df8a" stroke-width="0.2">8</text>
<text x="424.9" y="451.2" class="g" font-size="6.0" text-anchor="middle" fill="#b2df8a" stroke="#b2df8a" stroke-width="0.2">79</text>
<text x="424.9" y="465.8" class="g" font-size="6.0" text-anchor="middle" fill="#b2df8a" stroke="#b2df8a" stroke-width="0.2">15</text>
<text x="450.6" y="392.05" class="g" font-size="6.5" text-anchor="middle" fill="#33a02c" font-weight="bold">C&gt;A</text>
<text x="451.9" y="408.0" class="g" font-size="6.0" text-anchor="middle" fill="#33a02c" font-weight="bold">2,022</text>
<text x="451.9" y="422.5" class="g" font-size="6.0" text-anchor="middle" fill="#33a02c" font-weight="bold">2,723</text>
<text x="451.9" y="436.8" class="g" font-size="6.0" text-anchor="middle" fill="#33a02c" font-weight="bold">14</text>
<text x="451.9" y="451.2" class="g" font-size="6.0" text-anchor="middle" fill="#33a02c" font-weight="bold">0</text>
<text x="451.9" y="465.8" class="g" font-size="6.0" text-anchor="middle" fill="#33a02c" font-weight="bold">0</text>
<text x="478.1" y="392.05" class="g" font-size="6.5" text-anchor="middle" fill="#fb9a99" stroke="#fb9a99" stroke-width="0.2">C&gt;G</text>
<text x="477.7" y="408.0" class="g" font-size="6.0" text-anchor="middle" fill="#fb9a99" stroke="#fb9a99" stroke-width="0.2">2,471</text>
<text x="477.7" y="422.5" class="g" font-size="6.0" text-anchor="middle" fill="#fb9a99" stroke="#fb9a99" stroke-width="0.2">2,009</text>
<text x="477.7" y="436.8" class="g" font-size="6.0" text-anchor="middle" fill="#fb9a99" stroke="#fb9a99" stroke-width="0.2">11</text>
<text x="477.7" y="451.2" class="g" font-size="6.0" text-anchor="middle" fill="#fb9a99" stroke="#fb9a99" stroke-width="0.2">0</text>
<text x="477.7" y="465.8" class="g" font-size="6.0" text-anchor="middle" fill="#fb9a99" stroke="#fb9a99" stroke-width="0.2">0</text>
<text x="505.4" y="392.05" class="g" font-size="6.5" text-anchor="middle" fill="#e31a1c" font-weight="bold">C&gt;T</text>
<text x="506.0" y="408.0" class="g" font-size="6.0" text-anchor="middle" fill="#e31a1c" font-weight="bold">7,596</text>
<text x="506.0" y="422.5" class="g" font-size="6.0" text-anchor="middle" fill="#e31a1c" font-weight="bold">13,165</text>
<text x="506.0" y="436.8" class="g" font-size="6.0" text-anchor="middle" fill="#e31a1c" font-weight="bold">113</text>
<text x="506.0" y="451.2" class="g" font-size="6.0" text-anchor="middle" fill="#e31a1c" font-weight="bold">0</text>
<text x="506.0" y="465.8" class="g" font-size="6.0" text-anchor="middle" fill="#e31a1c" font-weight="bold">0</text>
<text x="532.9" y="392.05" class="g" font-size="6.5" text-anchor="middle" fill="#fdbf6f" stroke="#fdbf6f" stroke-width="0.2">G&gt;A</text>
<text x="534.4" y="408.0" class="g" font-size="6.0" text-anchor="middle" fill="#fdbf6f" stroke="#fdbf6f" stroke-width="0.2">11,668</text>
<text x="534.4" y="422.5" class="g" font-size="6.0" text-anchor="middle" fill="#fdbf6f" stroke="#fdbf6f" stroke-width="0.2">3,497</text>
<text x="534.4" y="436.8" class="g" font-size="6.0" text-anchor="middle" fill="#fdbf6f" stroke="#fdbf6f" stroke-width="0.2">301</text>
<text x="534.4" y="451.2" class="g" font-size="6.0" text-anchor="middle" fill="#fdbf6f" stroke="#fdbf6f" stroke-width="0.2">142</text>
<text x="534.4" y="465.8" class="g" font-size="6.0" text-anchor="middle" fill="#fdbf6f" stroke="#fdbf6f" stroke-width="0.2">0</text>
<text x="560.2" y="392.05" class="g" font-size="6.5" text-anchor="middle" fill="#ff7f00" font-weight="bold">G&gt;C</text>
<text x="562.2" y="408.0" class="g" font-size="6.0" text-anchor="middle" fill="#ff7f00" font-weight="bold">3,844</text>
<text x="562.2" y="422.5" class="g" font-size="6.0" text-anchor="middle" fill="#ff7f00" font-weight="bold">0</text>
<text x="562.2" y="436.8" class="g" font-size="6.0" text-anchor="middle" fill="#ff7f00" font-weight="bold">18</text>
<text x="562.2" y="451.2" class="g" font-size="6.0" text-anchor="middle" fill="#ff7f00" font-weight="bold">31</text>
<text x="562.2" y="465.8" class="g" font-size="6.0" text-anchor="middle" fill="#ff7f00" font-weight="bold">20</text>
<text x="587.9" y="392.05" class="g" font-size="6.5" text-anchor="middle" fill="#cab2d6" stroke="#cab2d6" stroke-width="0.2">G&gt;T</text>
<text x="590.6" y="408.0" class="g" font-size="6.0" text-anchor="middle" fill="#cab2d6" stroke="#cab2d6" stroke-width="0.2">3,740</text>
<text x="590.6" y="422.5" class="g" font-size="6.0" text-anchor="middle" fill="#cab2d6" stroke="#cab2d6" stroke-width="0.2">4,339</text>
<text x="590.6" y="436.8" class="g" font-size="6.0" text-anchor="middle" fill="#cab2d6" stroke="#cab2d6" stroke-width="0.2">28</text>
<text x="590.6" y="451.2" class="g" font-size="6.0" text-anchor="middle" fill="#cab2d6" stroke="#cab2d6" stroke-width="0.2">55</text>
<text x="590.6" y="465.8" class="g" font-size="6.0" text-anchor="middle" fill="#cab2d6" stroke="#cab2d6" stroke-width="0.2">10</text>
<text x="615.1" y="392.05" class="g" font-size="6.5" text-anchor="middle" fill="#6a3d9a" font-weight="bold">T&gt;A</text>
<text x="618.4" y="408.0" class="g" font-size="6.0" text-anchor="middle" fill="#6a3d9a" font-weight="bold">1,591</text>
<text x="618.4" y="422.5" class="g" font-size="6.0" text-anchor="middle" fill="#6a3d9a" font-weight="bold">1,419</text>
<text x="618.4" y="436.8" class="g" font-size="6.0" text-anchor="middle" fill="#6a3d9a" font-weight="bold">3</text>
<text x="618.4" y="451.2" class="g" font-size="6.0" text-anchor="middle" fill="#6a3d9a" font-weight="bold">58</text>
<text x="618.4" y="465.8" class="g" font-size="6.0" text-anchor="middle" fill="#6a3d9a" font-weight="bold">11</text>
<text x="642.6" y="392.05" class="g" font-size="6.5" text-anchor="middle" fill="#ffc01a" font-weight="bold">T&gt;C</text>
<text x="645.2" y="408.0" class="g" font-size="6.0" text-anchor="middle" fill="#ffc01a" font-weight="bold">5,161</text>
<text x="645.2" y="422.5" class="g" font-size="6.0" text-anchor="middle" fill="#ffc01a" font-weight="bold">0</text>
<text x="645.2" y="436.8" class="g" font-size="6.0" text-anchor="middle" fill="#ffc01a" font-weight="bold">12</text>
<text x="645.2" y="451.2" class="g" font-size="6.0" text-anchor="middle" fill="#ffc01a" font-weight="bold">203</text>
<text x="645.2" y="465.8" class="g" font-size="6.0" text-anchor="middle" fill="#ffc01a" font-weight="bold">48</text>
<text x="670.0" y="392.05" class="g" font-size="6.5" text-anchor="middle" fill="#b15928" font-weight="bold">T&gt;G</text>
<text x="669.9" y="408.0" class="g" font-size="6.0" text-anchor="middle" fill="#b15928" font-weight="bold">2,204</text>
<text x="669.9" y="422.5" class="g" font-size="6.0" text-anchor="middle" fill="#b15928" font-weight="bold">987</text>
<text x="669.9" y="436.8" class="g" font-size="6.0" text-anchor="middle" fill="#b15928" font-weight="bold">4</text>
<text x="669.9" y="451.2" class="g" font-size="6.0" text-anchor="middle" fill="#b15928" font-weight="bold">71</text>
<text x="669.9" y="465.8" class="g" font-size="6.0" text-anchor="middle" fill="#b15928" font-weight="bold">11</text>
<defs><clipPath id="cln"><rect x="301" y="415" width="10.9" height="10.1"/></clipPath></defs>
<path d="M301,402.50h10.9M301,404.50h10.9M301,406.50h10.9M301,408.50h10.9" stroke="#4a4a4a" stroke-width="0.8" fill="none"/>
<path d="M301,400.5h10.9M301,410.45h10.9" stroke="#b0b0b0" stroke-width="0.7" fill="none"/>
<path d="M301.00,415.30L301.50,415.63L302.00,415.79L302.50,415.72L303.00,415.44L303.50,415.09L304.00,414.85L304.50,414.82L305.00,415.03L305.50,415.37L306.00,415.68L306.50,415.80L307.00,415.68L307.50,415.37L308.00,415.03L308.50,414.82L309.00,414.85L309.50,415.09L310.00,415.44L310.50,415.72L311.00,415.79L311.50,415.63L311.90,415.37M301.00,417.30L301.50,416.97L302.00,416.81L302.50,416.88L303.00,417.16L303.50,417.51L304.00,417.75L304.50,417.78L305.00,417.57L305.50,417.23L306.00,416.92L306.50,416.80L307.00,416.92L307.50,417.23L308.00,417.57L308.50,417.78L309.00,417.75L309.50,417.51L310.00,417.16L310.50,416.88L311.00,416.81L311.50,416.97L311.90,417.23M301.00,419.30L301.50,419.63L302.00,419.79L302.50,419.72L303.00,419.44L303.50,419.09L304.00,418.85L304.50,418.82L305.00,419.03L305.50,419.37L306.00,419.68L306.50,419.80L307.00,419.68L307.50,419.37L308.00,419.03L308.50,418.82L309.00,418.85L309.50,419.09L310.00,419.44L310.50,419.72L311.00,419.79L311.50,419.63L311.90,419.37M301.00,421.30L301.50,420.97L302.00,420.81L302.50,420.88L303.00,421.16L303.50,421.51L304.00,421.75L304.50,421.78L305.00,421.57L305.50,421.23L306.00,420.92L306.50,420.80L307.00,420.92L307.50,421.23L308.00,421.57L308.50,421.78L309.00,421.75L309.50,421.51L310.00,421.16L310.50,420.88L311.00,420.81L311.50,420.97L311.90,421.23M301.00,423.30L301.50,423.63L302.00,423.79L302.50,423.72L303.00,423.44L303.50,423.09L304.00,422.85L304.50,422.82L305.00,423.03L305.50,423.37L306.00,423.68L306.50,423.80L307.00,423.68L307.50,423.37L308.00,423.03L308.50,422.82L309.00,422.85L309.50,423.09L310.00,423.44L310.50,423.72L311.00,423.79L311.50,423.63L311.90,423.37M301.00,425.30L301.50,424.97L302.00,424.81L302.50,424.88L303.00,425.16L303.50,425.51L304.00,425.75L304.50,425.78L305.00,425.57L305.50,425.23L306.00,424.92L306.50,424.80L307.00,424.92L307.50,425.23L308.00,425.57L308.50,425.78L309.00,425.75L309.50,425.51L310.00,425.16L310.50,424.88L311.00,424.81L311.50,424.97L311.90,425.23" stroke="#3a3a3a" stroke-width="0.85" fill="none" stroke-linejoin="round" clip-path="url(#cln)"/>
<path d="M301.12,430.25a0.38,0.38 0 1 0 0.76,0a0.38,0.38 0 1 0 -0.76,0zM303.30,430.25a0.38,0.38 0 1 0 0.76,0a0.38,0.38 0 1 0 -0.76,0zM305.48,430.25a0.38,0.38 0 1 0 0.76,0a0.38,0.38 0 1 0 -0.76,0zM307.66,430.25a0.38,0.38 0 1 0 0.76,0a0.38,0.38 0 1 0 -0.76,0zM309.84,430.25a0.38,0.38 0 1 0 0.76,0a0.38,0.38 0 1 0 -0.76,0zM302.21,431.34a0.38,0.38 0 1 0 0.76,0a0.38,0.38 0 1 0 -0.76,0zM304.39,431.34a0.38,0.38 0 1 0 0.76,0a0.38,0.38 0 1 0 -0.76,0zM306.57,431.34a0.38,0.38 0 1 0 0.76,0a0.38,0.38 0 1 0 -0.76,0zM308.75,431.34a0.38,0.38 0 1 0 0.76,0a0.38,0.38 0 1 0 -0.76,0zM310.93,431.34a0.38,0.38 0 1 0 0.76,0a0.38,0.38 0 1 0 -0.76,0zM301.12,432.43a0.38,0.38 0 1 0 0.76,0a0.38,0.38 0 1 0 -0.76,0zM303.30,432.43a0.38,0.38 0 1 0 0.76,0a0.38,0.38 0 1 0 -0.76,0zM305.48,432.43a0.38,0.38 0 1 0 0.76,0a0.38,0.38 0 1 0 -0.76,0zM307.66,432.43a0.38,0.38 0 1 0 0.76,0a0.38,0.38 0 1 0 -0.76,0zM309.84,432.43a0.38,0.38 0 1 0 0.76,0a0.38,0.38 0 1 0 -0.76,0zM302.21,433.52a0.38,0.38 0 1 0 0.76,0a0.38,0.38 0 1 0 -0.76,0zM304.39,433.52a0.38,0.38 0 1 0 0.76,0a0.38,0.38 0 1 0 -0.76,0zM306.57,433.52a0.38,0.38 0 1 0 0.76,0a0.38,0.38 0 1 0 -0.76,0zM308.75,433.52a0.38,0.38 0 1 0 0.76,0a0.38,0.38 0 1 0 -0.76,0zM310.93,433.52a0.38,0.38 0 1 0 0.76,0a0.38,0.38 0 1 0 -0.76,0zM301.12,434.61a0.38,0.38 0 1 0 0.76,0a0.38,0.38 0 1 0 -0.76,0zM303.30,434.61a0.38,0.38 0 1 0 0.76,0a0.38,0.38 0 1 0 -0.76,0zM305.48,434.61a0.38,0.38 0 1 0 0.76,0a0.38,0.38 0 1 0 -0.76,0zM307.66,434.61a0.38,0.38 0 1 0 0.76,0a0.38,0.38 0 1 0 -0.76,0zM309.84,434.61a0.38,0.38 0 1 0 0.76,0a0.38,0.38 0 1 0 -0.76,0zM302.21,435.70a0.38,0.38 0 1 0 0.76,0a0.38,0.38 0 1 0 -0.76,0zM304.39,435.70a0.38,0.38 0 1 0 0.76,0a0.38,0.38 0 1 0 -0.76,0zM306.57,435.70a0.38,0.38 0 1 0 0.76,0a0.38,0.38 0 1 0 -0.76,0zM308.75,435.70a0.38,0.38 0 1 0 0.76,0a0.38,0.38 0 1 0 -0.76,0zM310.93,435.70a0.38,0.38 0 1 0 0.76,0a0.38,0.38 0 1 0 -0.76,0zM301.12,436.79a0.38,0.38 0 1 0 0.76,0a0.38,0.38 0 1 0 -0.76,0zM303.30,436.79a0.38,0.38 0 1 0 0.76,0a0.38,0.38 0 1 0 -0.76,0zM305.48,436.79a0.38,0.38 0 1 0 0.76,0a0.38,0.38 0 1 0 -0.76,0zM307.66,436.79a0.38,0.38 0 1 0 0.76,0a0.38,0.38 0 1 0 -0.76,0zM309.84,436.79a0.38,0.38 0 1 0 0.76,0a0.38,0.38 0 1 0 -0.76,0zM302.21,437.88a0.38,0.38 0 1 0 0.76,0a0.38,0.38 0 1 0 -0.76,0zM304.39,437.88a0.38,0.38 0 1 0 0.76,0a0.38,0.38 0 1 0 -0.76,0zM306.57,437.88a0.38,0.38 0 1 0 0.76,0a0.38,0.38 0 1 0 -0.76,0zM308.75,437.88a0.38,0.38 0 1 0 0.76,0a0.38,0.38 0 1 0 -0.76,0zM310.93,437.88a0.38,0.38 0 1 0 0.76,0a0.38,0.38 0 1 0 -0.76,0zM301.12,438.97a0.38,0.38 0 1 0 0.76,0a0.38,0.38 0 1 0 -0.76,0zM303.30,438.97a0.38,0.38 0 1 0 0.76,0a0.38,0.38 0 1 0 -0.76,0zM305.48,438.97a0.38,0.38 0 1 0 0.76,0a0.38,0.38 0 1 0 -0.76,0zM307.66,438.97a0.38,0.38 0 1 0 0.76,0a0.38,0.38 0 1 0 -0.76,0zM309.84,438.97a0.38,0.38 0 1 0 0.76,0a0.38,0.38 0 1 0 -0.76,0zM302.21,440.06a0.38,0.38 0 1 0 0.76,0a0.38,0.38 0 1 0 -0.76,0zM304.39,440.06a0.38,0.38 0 1 0 0.76,0a0.38,0.38 0 1 0 -0.76,0zM306.57,440.06a0.38,0.38 0 1 0 0.76,0a0.38,0.38 0 1 0 -0.76,0zM308.75,440.06a0.38,0.38 0 1 0 0.76,0a0.38,0.38 0 1 0 -0.76,0zM310.93,440.06a0.38,0.38 0 1 0 0.76,0a0.38,0.38 0 1 0 -0.76,0z" fill="#333"/>
<rect x="300.9" y="444.4" width="10.7" height="10.7" fill="#484848"/>
<g fill="#f4f4f4"><ellipse cx="301.96" cy="445.62" rx="0.62" ry="0.52"/><ellipse cx="304.35" cy="445.72" rx="0.62" ry="0.52"/><ellipse cx="306.62" cy="445.71" rx="0.62" ry="0.52"/><ellipse cx="308.56" cy="445.48" rx="0.62" ry="0.52"/><ellipse cx="303.25" cy="447.51" rx="0.62" ry="0.52"/><ellipse cx="305.33" cy="447.57" rx="0.62" ry="0.52"/><ellipse cx="307.67" cy="447.74" rx="0.62" ry="0.52"/><ellipse cx="309.71" cy="447.56" rx="0.62" ry="0.52"/><ellipse cx="302.03" cy="449.73" rx="0.62" ry="0.52"/><ellipse cx="304.35" cy="449.72" rx="0.62" ry="0.52"/><ellipse cx="306.56" cy="449.71" rx="0.62" ry="0.52"/><ellipse cx="308.55" cy="450.09" rx="0.62" ry="0.52"/><ellipse cx="310.95" cy="449.76" rx="0.62" ry="0.52"/><ellipse cx="303.29" cy="452.29" rx="0.62" ry="0.52"/><ellipse cx="305.24" cy="452.33" rx="0.62" ry="0.52"/><ellipse cx="307.67" cy="452.19" rx="0.62" ry="0.52"/><ellipse cx="309.80" cy="452.32" rx="0.62" ry="0.52"/><ellipse cx="302.10" cy="454.20" rx="0.62" ry="0.52"/><ellipse cx="304.13" cy="454.13" rx="0.62" ry="0.52"/><ellipse cx="306.32" cy="454.08" rx="0.62" ry="0.52"/><ellipse cx="308.70" cy="454.35" rx="0.62" ry="0.52"/><ellipse cx="310.85" cy="454.39" rx="0.62" ry="0.52"/></g>
<rect x="300.9" y="459.9" width="11.1" height="11.1" fill="#4c4c4c"/>
<path d="M302.42,461.24h0.84v0.84h-0.84zM304.31,461.24h0.84v0.84h-0.84zM306.20,461.24h0.84v0.84h-0.84zM308.09,461.24h0.84v0.84h-0.84zM309.98,461.24h0.84v0.84h-0.84zM302.42,463.14h0.84v0.84h-0.84zM304.31,463.14h0.84v0.84h-0.84zM306.20,463.14h0.84v0.84h-0.84zM308.09,463.14h0.84v0.84h-0.84zM309.98,463.14h0.84v0.84h-0.84zM302.42,465.04h0.84v0.84h-0.84zM304.31,465.04h0.84v0.84h-0.84zM306.20,465.04h0.84v0.84h-0.84zM308.09,465.04h0.84v0.84h-0.84zM309.98,465.04h0.84v0.84h-0.84zM302.42,466.94h0.84v0.84h-0.84zM304.31,466.94h0.84v0.84h-0.84zM306.20,466.94h0.84v0.84h-0.84zM308.09,466.94h0.84v0.84h-0.84zM309.98,466.94h0.84v0.84h-0.84zM302.42,468.84h0.84v0.84h-0.84zM304.31,468.84h0.84v0.84h-0.84zM306.20,468.84h0.84v0.84h-0.84zM308.09,468.84h0.84v0.84h-0.84zM309.98,468.84h0.84v0.84h-0.84z" fill="#f2f2f2"/>
<text x="313.3" y="406.75" class="g" font-size="6.6" text-anchor="start" fill="#222" textLength="43.8" lengthAdjust="spacingAndGlyphs">missense variant</text>
<text x="313.3" y="421.4" class="g" font-size="6.6" text-anchor="start" fill="#222" textLength="25.3" lengthAdjust="spacingAndGlyphs">nonsense</text>
<text x="313.3" y="436.05" class="g" font-size="6.6" text-anchor="start" fill="#222" textLength="32.7" lengthAdjust="spacingAndGlyphs">synonymous</text>
<text x="313.3" y="452.4" class="g" font-size="6.6" text-anchor="start" fill="#222" textLength="37.4" lengthAdjust="spacingAndGlyphs">initiator codon</text>
<text x="313.3" y="468.4" class="g" font-size="6.6" text-anchor="start" fill="#222" textLength="21.6" lengthAdjust="spacingAndGlyphs">stop lost</text>
</svg></body></html>
